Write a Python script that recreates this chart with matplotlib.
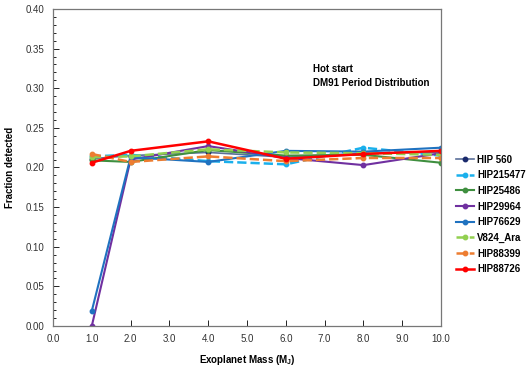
import matplotlib.pyplot as plt
from matplotlib.ticker import MultipleLocator

plt.rcParams['font.family'] = ['Liberation Sans', 'DejaVu Sans']

mass = [1.0, 2.0, 4.0, 6.0, 8.0, 10.0]

names = ['HIP 560', 'HIP215477', 'HIP25486', 'HIP29964', 'HIP76629',
         'V824_Ara', 'HIP88399', 'HIP88726']

hip560 = [0.211, 0.215, 0.219, 0.213, 0.218, 0.219]
hip215477 = [0.214, 0.216, 0.208, 0.204, 0.225, 0.215]
hip25486 = [0.209, 0.207, 0.222, 0.215, 0.216, 0.206]
hip29964 = [0.000, 0.210, 0.227, 0.212, 0.203, 0.218]
hip76629 = [0.019, 0.213, 0.207, 0.221, 0.220, 0.225]
v824_ara = [0.213, 0.214, 0.223, 0.219, 0.218, 0.216]
hip88399 = [0.217, 0.207, 0.214, 0.208, 0.212, 0.212]
hip88726 = [0.206, 0.221, 0.233, 0.211, 0.217, 0.221]

series = [hip560, hip215477, hip25486, hip29964, hip76629, v824_ara, hip88399, hip88726]
colors = ['#5b6f99', '#1ab0ec', '#3f8f3f', '#7030a0', '#1f72c0', '#92d050', '#ed7d31', '#ff0000']
mcolors = ['#1a2a6c', '#1ab0ec', '#3f8f3f', '#7030a0', '#1f72c0', '#92d050', '#ed7d31', '#ff0000']
styles = ['-', '--', '-', '-', '-', '--', '--', '-']
widths = [1.2, 1.8, 1.5, 1.5, 1.5, 1.8, 1.8, 1.8]

fig = plt.figure(figsize=(5.31, 3.72), dpi=100)
ax = fig.add_axes([0.0998, 0.1237, 0.7307, 0.8521])

for name, vals, c, mc, ls, lw in zip(names, series, colors, mcolors, styles, widths):
    ax.plot(mass, vals, ls, color=c, lw=lw, marker='o', ms=3.2,
            markerfacecolor=mc, markeredgecolor=mc, label=name)

ax.set_xlim(0, 10)
ax.set_ylim(0, 0.40)
ax.set_xticks([i for i in range(11)])
ax.set_xticklabels(['%.1f' % i for i in range(11)])
ax.set_yticks([i * 0.05 for i in range(9)])
ax.set_yticklabels(['%.2f' % (i * 0.05) for i in range(9)])
ax.yaxis.set_minor_locator(MultipleLocator(0.01))
ax.tick_params(axis='both', which='both', direction='in', labelsize=7, width=0.6)
ax.tick_params(axis='both', which='major', length=4, pad=6)
ax.tick_params(axis='y', which='minor', length=2)
for lab in ax.get_xticklabels() + ax.get_yticklabels():
    lab.set_color('#333333')
for sp in ax.spines.values():
    sp.set_color('#777777')
    sp.set_linewidth(0.9)

ax.set_xlabel('Exoplanet Mass (M$_\\mathregular{J}$)', fontsize=7, fontweight='bold', labelpad=6)
ax.set_ylabel('Fraction detected', fontsize=7, fontweight='bold', labelpad=8)

ax.text(6.7, 0.330, 'Hot start\nDM91 Period Distribution', fontsize=7,
        fontweight='bold', va='top', ha='left', linespacing=1.5)

leg = ax.legend(loc='center left', bbox_to_anchor=(1.02, 0.352), frameon=False,
                prop={'size': 7, 'weight': 'bold'}, handlelength=1.9,
                handletextpad=0.3, labelspacing=0.58, borderaxespad=0.3)

fig.savefig('out.png', dpi=100)
